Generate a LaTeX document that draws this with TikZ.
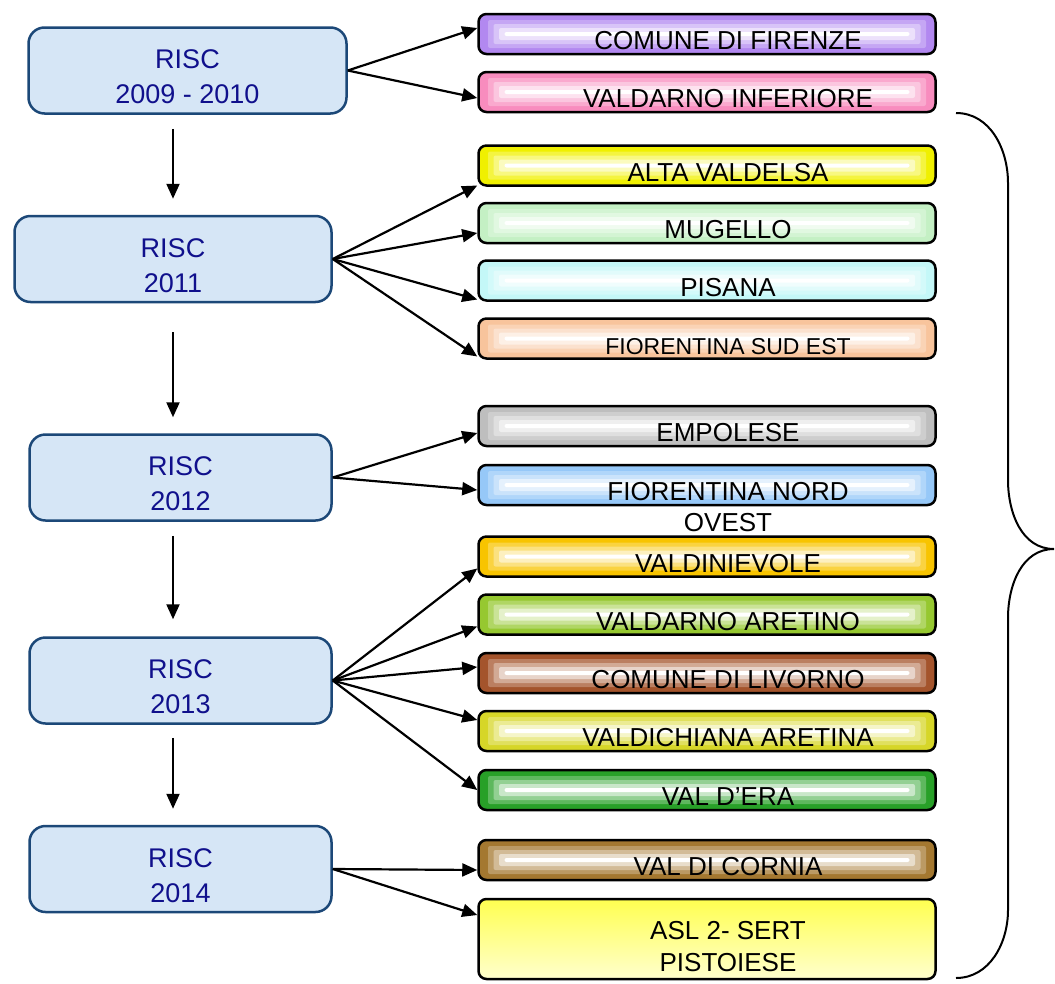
\documentclass[tikz,border=0pt]{standalone}
\usepackage{fontspec}
\setmainfont{Liberation Sans}
\usetikzlibrary{arrows.meta}

\definecolor{riscfill}{RGB}{214,230,246}
\definecolor{riscedge}{RGB}{28,72,120}
\definecolor{risctext}{RGB}{16,16,140}
\definecolor{cfirenze}{RGB}{178,136,240}
\definecolor{cvaldinf}{RGB}{248,140,190}
\definecolor{caltaval}{RGB}{240,240,0}
\definecolor{cmugello}{RGB}{196,240,196}
\definecolor{cpisana}{RGB}{196,248,248}
\definecolor{cfiosud}{RGB}{248,196,156}
\definecolor{cempolese}{RGB}{190,190,190}
\definecolor{cfionord}{RGB}{150,200,248}
\definecolor{cvalniev}{RGB}{248,196,0}
\definecolor{cvalaret}{RGB}{150,200,48}
\definecolor{clivorno}{RGB}{164,84,44}
\definecolor{cvalchi}{RGB}{214,214,40}
\definecolor{cvalera}{RGB}{40,160,40}
\definecolor{ccornia}{RGB}{164,120,48}
\definecolor{caslTop}{RGB}{255,255,80}
\definecolor{caslBot}{RGB}{255,255,205}

\newcommand{\lpad}{\hspace*{42pt}}

\tikzset{
risc/.style={draw=riscedge, line width=2.5pt, fill=riscfill, rounded corners=16pt,
  text=risctext, font=\fontsize{27}{35}\selectfont, align=center,
  text height=66pt, text depth=0pt, inner sep=0pt, minimum height=86pt},
area/.style={draw=black, line width=2.5pt, fill=#1, rounded corners=8pt,
  minimum width=457pt, minimum height=40pt, inner sep=0pt,
  font=\fontsize{26}{31}\selectfont, align=center, text height=31pt, text depth=0pt,
  path picture={
    \foreach \k in {1,...,4}{
      \pgfmathtruncatemacro\tint{100-25*\k}
      \fill[#1!\tint!white, rounded corners=2pt]
        ([xshift=4pt+5.5pt*\k, yshift=-2pt-4pt*\k]path picture bounding box.north west)
        rectangle ([xshift=-4pt-5.5pt*\k, yshift=2pt+4pt*\k]path picture bounding box.south east);
    }
  }},
aslbox/.style={draw=black, line width=2.5pt, rounded corners=8pt,
  top color=caslTop, bottom color=caslBot,
  minimum width=457pt, minimum height=80pt, inner sep=0pt,
  font=\fontsize{26}{32}\selectfont, align=center, text height=64pt, text depth=0pt},
link/.style={line width=2.2pt, ->},
>={Triangle[length=15pt,width=13pt]},
}

\begin{document}
\begin{tikzpicture}[x=1pt, y=-1pt]
\useasboundingbox (0,0) rectangle (1055,983);
\coordinate (spine) at (173,0);

%% years;
\node [risc, minimum width=318pt] (risc09) at (187.5,70.5) {RISC\\2009 - 2010};
\node [risc, minimum width=317pt] (risc11) at (173,259) {RISC\\2011};
\node [risc, minimum width=302pt] (risc12) at (180.5,477.5) {RISC\\2012};
\node [risc, minimum width=302pt] (risc13) at (180.5,680.5) {RISC\\2013};
\node [risc, minimum width=302pt] (risc14) at (180.5,869) {RISC\\2014};

%% areas;
\node [area=cfirenze] (firenze) at (707,34) {\lpad COMUNE DI FIRENZE};
\node [area=cvaldinf] (valdinf) at (707,92) {\lpad VALDARNO INFERIORE};
\node [area=caltaval] (altaval) at (707,165.5) {\lpad ALTA VALDELSA};
\node [area=cmugello] (mugello) at (707,223) {\lpad MUGELLO};
\node [area=cpisana] (pisana) at (707,280.5) {\lpad PISANA};
\node [area=cfiosud, font=\fontsize{23}{28}\selectfont] (fiosud) at (707,338.5) {\lpad FIORENTINA SUD EST};
\node [area=cempolese] (empolese) at (707,426) {\lpad EMPOLESE};
\node [area=cfionord] (fionord) at (707,485)
  {\lpad\begin{tabular}[t]{@{}c@{}}FIORENTINA NORD\\OVEST\end{tabular}};
\node [area=cvalniev] (valniev) at (707,556.5) {\lpad VALDINIEVOLE};
\node [area=cvalaret] (valaret) at (707,614.5) {\lpad VALDARNO ARETINO};
\node [area=clivorno] (livorno) at (707,673) {\lpad COMUNE DI LIVORNO};
\node [area=cvalchi] (valchi) at (707,731) {\lpad VALDICHIANA ARETINA};
\node [area=cvalera] (valera) at (707,790) {\lpad VAL D'ERA};
\node [area=ccornia] (cornia) at (707,860) {\lpad VAL DI CORNIA};
\node [aslbox] (sert) at (707,939) {\lpad ASL 2- SERT\\\lpad PISTOIESE};

%% timeline;
\draw [link, shorten <=14pt, shorten >=16pt] (risc09.south -| spine) -- (risc11.north -| spine);
\draw [link, shorten <=29pt, shorten >=16pt] (risc11.south -| spine) -- (risc12.north -| spine);
\draw [link, shorten <=14pt, shorten >=17pt] (risc12.south -| spine) -- (risc13.north -| spine);
\draw [link, shorten <=13pt, shorten >=16pt] (risc13.south -| spine) -- (risc14.north -| spine);

%% links;
\draw [link] (risc09.east) -- ([yshift=6pt]firenze.west);
\draw [link] (risc09.east) -- ([yshift=-6pt]valdinf.west);
\draw [link] (risc11.east) -- ([yshift=-20pt]altaval.west);
\draw [link] (risc11.east) -- ([yshift=-10pt]mugello.west);
\draw [link] (risc11.east) -- ([yshift=-19pt]pisana.west);
\draw [link] (risc11.east) -- ([yshift=-18pt]fiosud.west);
\draw [link] (risc12.east) -- ([yshift=-7pt]empolese.west);
\draw [link] (risc12.east) -- ([yshift=-5pt]fionord.west);
\draw [link] (risc13.east) -- ([yshift=-12pt]valniev.west);
\draw [link] (risc13.east) -- ([yshift=-12pt]valaret.west);
\draw [link] (risc13.east) -- ([yshift=6pt]livorno.west);
\draw [link] (risc13.east) -- ([yshift=11pt]valchi.west);
\draw [link] (risc13.east) -- (valera.west);
\draw [link] (risc14.east) -- ([yshift=-10pt]cornia.west);
\draw [link] (risc14.east) -- ([yshift=24pt]sert.west);

%% brace;
\draw [line width=2pt] (956,113) to[out=0,in=90] (1008,183) -- (1008,480)
  to[out=-90,in=180] (1054,549) to[out=180,in=90] (1008,618) -- (1008,910)
  to[out=-90,in=0] (956,978);
\end{tikzpicture}
\end{document}
